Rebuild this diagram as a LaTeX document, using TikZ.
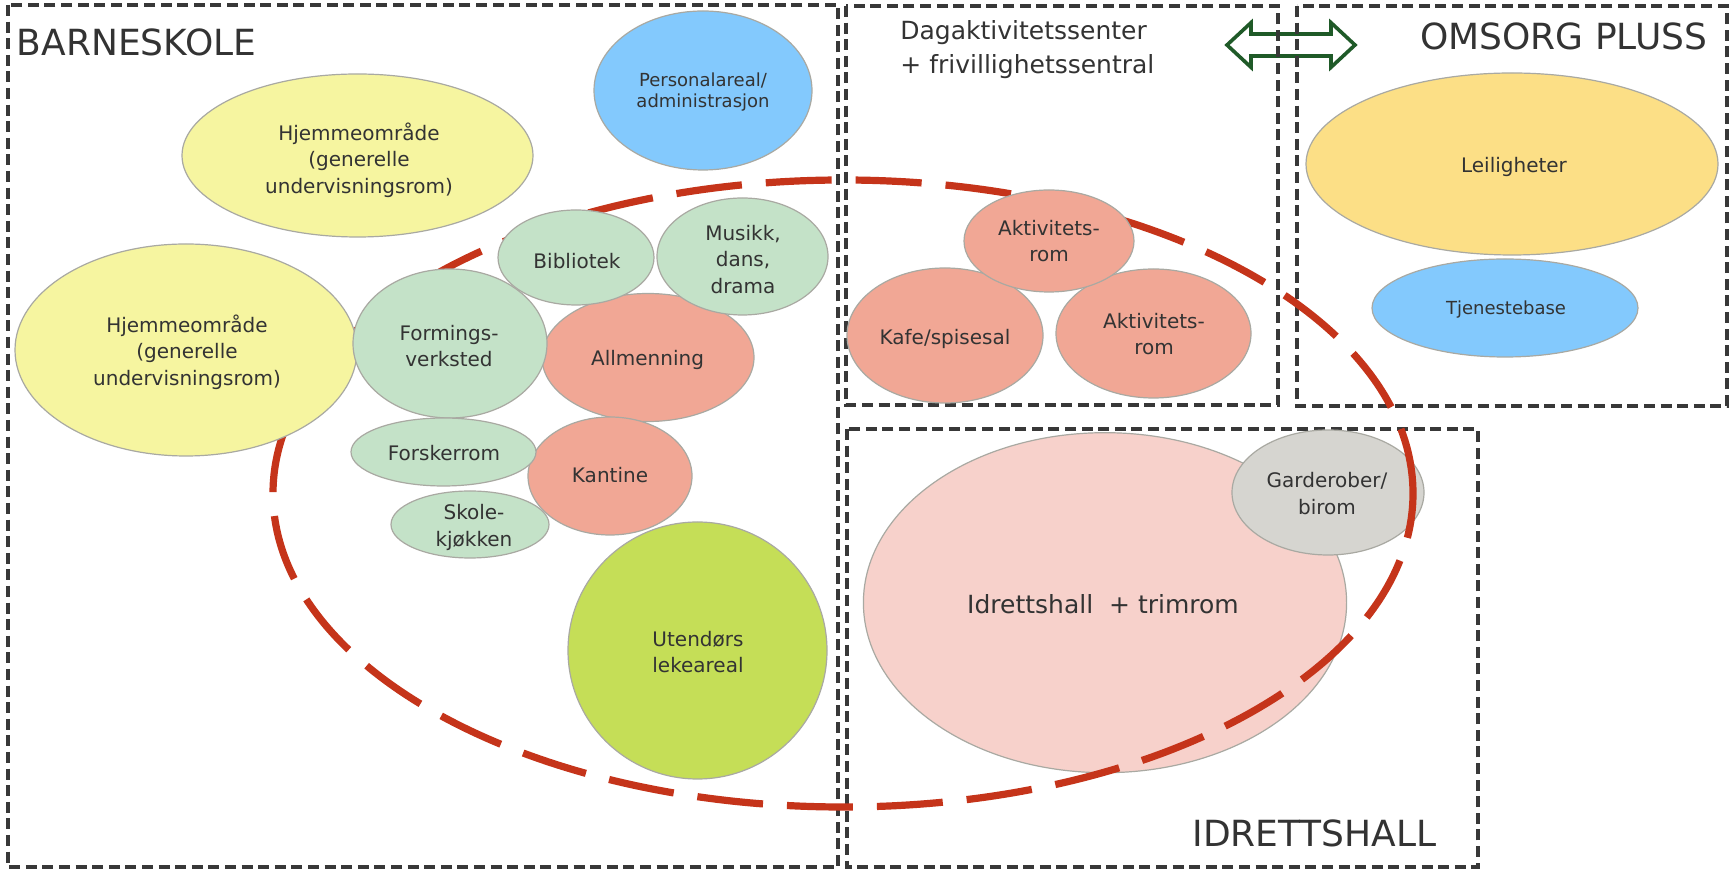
\documentclass[tikz,border=0pt]{standalone}
\usepackage{fontspec}
\setmainfont{DejaVu Sans}
\usetikzlibrary{shapes.geometric}
\definecolor{boxgray}{HTML}{383838}
\definecolor{rimgray}{HTML}{A9A9A2}
\definecolor{txtgray}{HTML}{333333}
\definecolor{paleyellow}{HTML}{F6F5A0}
\definecolor{skyblue}{HTML}{83C9FD}
\definecolor{palegreen}{HTML}{C4E2C8}
\definecolor{salmon}{HTML}{F1A795}
\definecolor{lime}{HTML}{C5DE57}
\definecolor{gold}{HTML}{FCDF86}
\definecolor{pink}{HTML}{F7D1CB}
\definecolor{stone}{HTML}{D6D5D0}
\definecolor{loopred}{HTML}{C5341A}
\definecolor{arrowgreen}{HTML}{1F5A28}
\tikzset{
  room/.style={ellipse, draw=rimgray, line width=0.6pt, inner sep=0pt, outer sep=0pt},
  rsize/.style 2 args={minimum width=#1pt, minimum height=#2pt},
  lbl/.style={text=txtgray, align=center, inner sep=0pt, font=\fontsize{10}{13.3}\selectfont},
  lblsmall/.style={text=txtgray, align=center, inner sep=0pt, font=\fontsize{9}{10.7}\selectfont},
  heading/.style={text=txtgray, inner sep=0pt, font=\fontsize{18}{21}\selectfont},
  zone/.style={draw=boxgray, line width=1.8pt, dash pattern=on 5.5pt off 2.8pt},
  ringdash/.style={draw=loopred, line width=3.6pt, dash pattern=on 33pt off 12pt},
}
\begin{document}
\begin{tikzpicture}[x=0.5pt, y=-0.5pt]
\useasboundingbox (0,0) rectangle (1736,870);
\fill[white] (0,0) rectangle (1736,870);

% double arrow between the two upper zones
\draw[arrowgreen, line width=1.8pt, line join=miter]
  (1227,45) -- (1251,22.7) -- (1251,34) -- (1331,34) -- (1331,22.7) -- (1355,45)
  -- (1331,67.3) -- (1331,56) -- (1251,56) -- (1251,67.3) -- cycle;

% zones
\draw[zone] (8,5) rectangle (838,867);
\draw[zone] (846,6) rectangle (1278,405);
\draw[zone] (1297,6) rectangle (1727,406);
\draw[zone] (847,429) rectangle (1478,867);

% sports hall (under the red ring)
\node[room, fill=pink, rsize={241.6}{170}] (idr) at (1105,602.7) {};
\node[room, fill=stone, rsize={96}{62.5}] (gard) at (1328,492.5) {};

% red dashed ring
\draw[ringdash] (843,493.5) ellipse [x radius=285pt, y radius=156.75pt];

% school rooms
\node[room, fill=skyblue, rsize={109}{79.5}] (pers) at (703,90.5) {};
\node[room, fill=paleyellow, rsize={175.5}{81.5}] (hj1) at (357.5,155.5) {};
\node[room, fill=paleyellow, rsize={171}{106}] (hj2) at (186,350) {};
\node[room, fill=salmon, rsize={106}{64}] (allm) at (648,357.5) {};
\node[room, fill=palegreen, rsize={97}{74.5}] (form) at (450,343.5) {};
\node[room, fill=palegreen, rsize={78}{47.5}] (bib) at (576,257.5) {};
\node[room, fill=palegreen, rsize={85.5}{58.5}] (mus) at (742.5,256.5) {};
\node[room, fill=salmon, rsize={82}{59}] (kant) at (610,476) {};
\node[room, fill=palegreen, rsize={92.5}{34}] (forsk) at (443.5,452) {};
\node[room, fill=palegreen, rsize={79}{33.5}] (skole) at (470,524.5) {};
\node[room, fill=lime, rsize={129.5}{128.5}] (ute) at (697.5,650.5) {};

% day centre rooms
\node[room, fill=salmon, rsize={98}{67.5}] (kafe) at (945,335.5) {};
\node[room, fill=salmon, rsize={97.5}{64.5}] (akt2) at (1153.5,333.5) {};
\node[room, fill=salmon, rsize={85}{51}] (akt1) at (1049,241) {};

% care rooms
\node[room, fill=gold, rsize={206}{91}] (leil) at (1512,164) {};
\node[room, fill=skyblue, rsize={133}{49}] (tjen) at (1505,308) {};

% headings
\node[heading, anchor=base west] (hbarn) at (16.5,56) {BARNESKOLE};
\node[heading, anchor=base east] (homs) at (1707.5,49.3) {OMSORG PLUSS};
\node[heading, anchor=base east] (hidr) at (1437,846.7) {IDRETTSHALL};
\node[text=txtgray, inner sep=0pt, anchor=north west, align=left,
      font=\fontsize{12.5}{17}\selectfont] (hdag) at (900,20)
      {Dagaktivitetssenter\\+ frivillighetssentral};

% labels
\node[lblsmall] (tpers) at (703,92.3) {Personalareal/\\administrasjon};
\node[lbl] (thj1) at (359,160) {Hjemmeområde\\(generelle\\undervisningsrom)};
\node[lbl] (thj2) at (187,352) {Hjemmeområde\\(generelle\\undervisningsrom)};
\node[lbl] (tbib) at (577,261) {Bibliotek};
\node[lbl] (tmus) at (743,259.5) {Musikk,\\dans,\\drama};
\node[lbl] (tform) at (449,346) {Formings-\\verksted};
\node[lbl] (tallm) at (647.5,360) {Allmenning};
\node[lbl] (tforsk) at (444,453) {Forskerrom};
\node[lbl] (tkant) at (610,475.5) {Kantine};
\node[lbl] (tskole) at (474,527.5) {Skole-\\kjøkken};
\node[lbl] (tute) at (698,652) {Utendørs\\lekeareal};
\node[lbl] (takt1) at (1049,241) {Aktivitets-\\rom};
\node[lbl] (tkafe) at (945,338.5) {Kafe/spisesal};
\node[lbl] (takt2) at (1154,334) {Aktivitets-\\rom};
\node[lbl] (tleil) at (1514,166.7) {Leiligheter};
\node[lblsmall] (ttjen) at (1506,310) {Tjenestebase};
\node[lbl] (tgard) at (1327,493.7) {Garderober/\\birom};
\node[text=txtgray, inner sep=0pt, font=\fontsize{12.5}{15}\selectfont] (tidr) at (1103,604) {Idrettshall~ + trimrom};
\end{tikzpicture}
\end{document}
